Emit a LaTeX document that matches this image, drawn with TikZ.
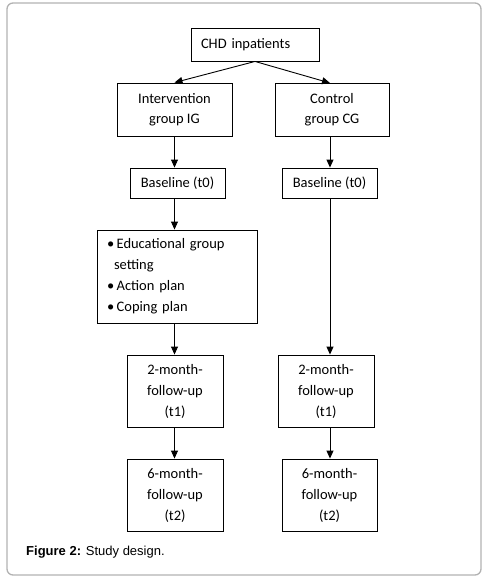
\documentclass[tikz,border=0pt]{standalone}
\usepackage{fontspec}
\setmainfont{Carlito}
\newfontfamily\capfont{Liberation Sans}
\usetikzlibrary{arrows.meta}
\tikzset{
  box/.style={draw=black, line width=0.9pt, inner sep=2pt, align=center,
    font=\fontsize{14.5}{20}\selectfont},
  arr/.style={line width=0.9pt, -{Triangle[length=8pt,width=7pt]}},
}
\begin{document}
\begin{tikzpicture}[x=1pt,y=-1pt]
\useasboundingbox (0,0) rectangle (486,583);
\draw[draw=black!30, line width=1.3pt, rounded corners=6pt] (7,3) rectangle (481,575);

\node[box, minimum width=128, minimum height=33, text width=108, align=left, inner sep=10pt] (chd) at (255,44.5) {CHD inpatients};
\node[box, minimum width=115, minimum height=53] (ig) at (174.5,109.5) {Intervention\\group IG};
\node[box, minimum width=114, minimum height=53] (cg) at (332,109.5) {Control\\group CG};
\node[box, minimum width=95, minimum height=30] (bl) at (177.5,183) {Baseline (t0)};
\node[box, minimum width=95, minimum height=30] (br) at (329.5,183) {Baseline (t0)};
\node[box, minimum width=160, minimum height=93, text width=140, align=left, inner xsep=10pt, inner ysep=5pt, font=\fontsize{14.5}{21}\selectfont] (edu) at (177,276.5)
  {\textbullet\,Educational group\\\hspace*{7pt}setting\\\textbullet\,Action plan\\\textbullet\,Coping plan};
\node[box, minimum width=96, minimum height=72, font=\fontsize{14.5}{21}\selectfont] (m2l) at (175,391) {2-month-\\follow-up\\(t1)};
\node[box, minimum width=96, minimum height=72, font=\fontsize{14.5}{21}\selectfont] (m2r) at (326,391) {2-month-\\follow-up\\(t1)};
\node[box, minimum width=96, minimum height=72, font=\fontsize{14.5}{21}\selectfont] (m6l) at (175,495) {6-month-\\follow-up\\(t2)};
\node[box, minimum width=95, minimum height=72, font=\fontsize{14.5}{21}\selectfont] (m6r) at (329.5,495) {6-month-\\follow-up\\(t2)};

\coordinate (cgin) at (330,83);
\draw[arr] (chd.south) -- (ig.north);
\draw[arr] (chd.south) -- (cgin);
\draw[arr] (ig.south) -- (ig.south |- bl.north);
\draw[arr] (cgin |- cg.south) -- (cgin |- br.north);
\draw[arr] (ig.south |- bl.south) -- (ig.south |- edu.north);
\draw[arr] (cgin |- br.south) -- (cgin |- m2r.north);
\draw[arr] (ig.south |- edu.south) -- (ig.south |- m2l.north);
\draw[arr] (ig.south |- m2l.south) -- (ig.south |- m6l.north);
\draw[arr] (cgin |- m2r.south) -- (cgin |- m6r.north);

\node[anchor=west, inner sep=0pt, font=\capfont\fontsize{13}{15}\selectfont] (cap) at (26,552) {\textbf{Figure 2:} Study design.};
\end{tikzpicture}
\end{document}
